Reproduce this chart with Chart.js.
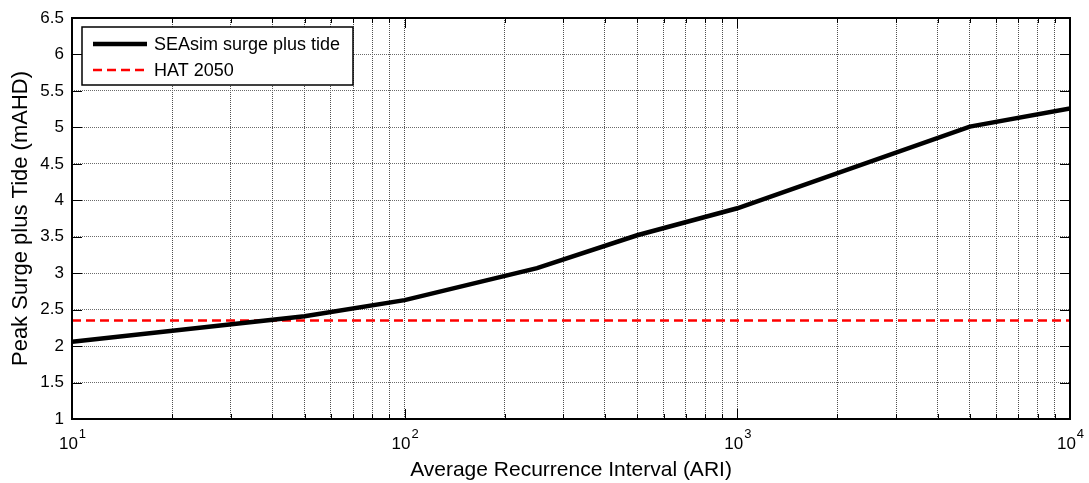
<!DOCTYPE html>
<html>
<head>
<meta charset="utf-8">
<title>Peak Surge plus Tide vs ARI</title>
<script src="https://cdn.jsdelivr.net/npm/chart.js@4.4.1/dist/chart.umd.min.js"></script>
<style>
    html, body { margin: 0; padding: 0; background: #ffffff; }
    canvas { display: block; }
</style>
</head>
<body>
<canvas id="surgeChart" width="1089" height="483"></canvas>
<script>
// Chart data
const ariValues = [10, 50, 100, 250, 500, 1000, 5000, 10000];
const surgeTide = [2.06, 2.41, 2.63, 3.07, 3.52, 3.89, 5.01, 5.26];
const hatRange = [10, 10000];
const hatLevel = 2.35;

const decadeTicks = [10, 100, 1000, 10000];
const decadeLabels = ['1', '2', '3', '4'];
const yTickValues = [1, 1.5, 2, 2.5, 3, 3.5, 4, 4.5, 5, 5.5, 6, 6.5];

const seriesNames = ['SEAsim surge plus tide', 'HAT 2050'];

const FONT = '"Liberation Sans", Arial, sans-serif';

// every grid position on the log axis (1..9 times each decade)
function logGridValues() {
    const vals = [];
    for (let d = 0; d < decadeTicks.length - 1; d++) {
        for (let m = 1; m < 10; m++) vals.push(decadeTicks[d] * m);
    }
    vals.push(decadeTicks[decadeTicks.length - 1]);
    return vals;
}

// MATLAB-style box, inward ticks, tick labels, titles and legend
const matlabAxes = {
    id: 'matlabAxes',
    afterDraw(chart) {
        const ctx = chart.ctx;
        const area = chart.chartArea;
        const xs = chart.scales.x;
        const ys = chart.scales.y;
        ctx.save();

        // tick marks on all four sides
        ctx.strokeStyle = '#000';
        ctx.lineWidth = 1;
        ctx.beginPath();
        logGridValues().forEach(v => {
            const px = Math.round(xs.getPixelForValue(v)) + 0.5;
            const len = decadeTicks.includes(v) ? 10 : 5;
            ctx.moveTo(px, area.bottom);
            ctx.lineTo(px, area.bottom - len);
            ctx.moveTo(px, area.top);
            ctx.lineTo(px, area.top + len);
        });
        yTickValues.forEach(v => {
            const py = Math.round(ys.getPixelForValue(v)) + 0.5;
            ctx.moveTo(area.left, py);
            ctx.lineTo(area.left + 10, py);
            ctx.moveTo(area.right, py);
            ctx.lineTo(area.right - 10, py);
        });
        ctx.stroke();

        // box
        ctx.lineWidth = 2;
        ctx.strokeRect(area.left, area.top, area.right - area.left, area.bottom - area.top);

        // y tick labels
        ctx.fillStyle = '#000';
        ctx.font = '17px ' + FONT;
        ctx.textAlign = 'right';
        ctx.textBaseline = 'middle';
        yTickValues.forEach(v => {
            ctx.fillText(String(v), area.left - 8, ys.getPixelForValue(v));
        });

        // x tick labels: 10 with superscript exponent
        ctx.textBaseline = 'alphabetic';
        ctx.textAlign = 'left';
        decadeTicks.forEach((v, i) => {
            const px = xs.getPixelForValue(v);
            ctx.font = '17px ' + FONT;
            const baseW = ctx.measureText('10').width;
            ctx.font = '13px ' + FONT;
            const expW = ctx.measureText(decadeLabels[i]).width;
            const start = px - (baseW + expW) / 2;
            ctx.font = '17px ' + FONT;
            ctx.fillText('10', start, area.bottom + 30);
            ctx.font = '13px ' + FONT;
            ctx.fillText(decadeLabels[i], start + baseW + 1, area.bottom + 19);
        });

        // axis titles
        ctx.font = '21px ' + FONT;
        ctx.textAlign = 'center';
        ctx.textBaseline = 'alphabetic';
        ctx.fillText('Average Recurrence Interval (ARI)', (area.left + area.right) / 2, area.bottom + 57);
        ctx.save();
        ctx.font = '22px ' + FONT;
        ctx.translate(27, (area.top + area.bottom) / 2);
        ctx.rotate(-Math.PI / 2);
        ctx.fillText('Peak Surge plus Tide (mAHD)', 0, 0);
        ctx.restore();

        // legend box
        const lx = 82, ly = 27, lw = 271, lh = 58;
        ctx.fillStyle = '#fff';
        ctx.fillRect(lx, ly, lw, lh);
        ctx.strokeStyle = '#000';
        ctx.lineWidth = 1.5;
        ctx.strokeRect(lx, ly, lw, lh);
        chart.data.datasets.forEach((ds, i) => {
            const rowY = ly + 17 + i * 26;
            ctx.save();
            ctx.strokeStyle = ds.borderColor;
            ctx.lineWidth = ds.borderWidth;
            ctx.setLineDash(ds.borderDash || []);
            ctx.beginPath();
            ctx.moveTo(93, rowY);
            ctx.lineTo(147, rowY);
            ctx.stroke();
            ctx.restore();
            ctx.fillStyle = '#000';
            ctx.font = '18px ' + FONT;
            ctx.textAlign = 'left';
            ctx.textBaseline = 'middle';
            ctx.fillText(ds.label, 154, rowY + 1);
        });

        ctx.restore();
    }
};

const ctx = document.getElementById('surgeChart').getContext('2d');
const surgeChart = new Chart(ctx, {
    type: 'line',
    data: {
        datasets: [
            {
                label: seriesNames[0],
                data: ariValues.map((x, i) => ({ x: x, y: surgeTide[i] })),
                borderColor: '#000000',
                borderWidth: 4.5,
                pointRadius: 0,
                tension: 0,
                fill: false
            },
            {
                label: seriesNames[1],
                data: hatRange.map(x => ({ x: x, y: hatLevel })),
                borderColor: '#ff0000',
                borderWidth: 2.5,
                borderDash: [9, 5],
                pointRadius: 0,
                fill: false
            }
        ]
    },
    options: {
        responsive: false,
        animation: false,
        events: [],
        layout: {
            padding: { top: 18, right: 19, left: 0, bottom: 0 }
        },
        plugins: {
            legend: { display: false },
            tooltip: { enabled: false }
        },
        scales: {
            x: {
                type: 'logarithmic',
                min: 10,
                max: 10000,
                afterBuildTicks(axis) {
                    axis.ticks = logGridValues().map(v => ({ value: v, major: decadeTicks.includes(v) }));
                },
                afterFit(axis) { axis.height = 64; },
                ticks: { display: false },
                grid: {
                    color: '#505050',
                    lineWidth: 1,
                    drawTicks: false
                },
                border: { display: false, dash: [1, 1] }
            },
            y: {
                type: 'linear',
                min: 1,
                max: 6.5,
                afterBuildTicks(axis) {
                    axis.ticks = yTickValues.map(v => ({ value: v }));
                },
                afterFit(axis) { axis.width = 72; },
                ticks: { display: false },
                grid: {
                    color: '#6a6a6a',
                    lineWidth: 1,
                    drawTicks: false
                },
                border: { display: false, dash: [1, 1] }
            }
        }
    },
    plugins: [matlabAxes]
});
</script>
</body>
</html>
